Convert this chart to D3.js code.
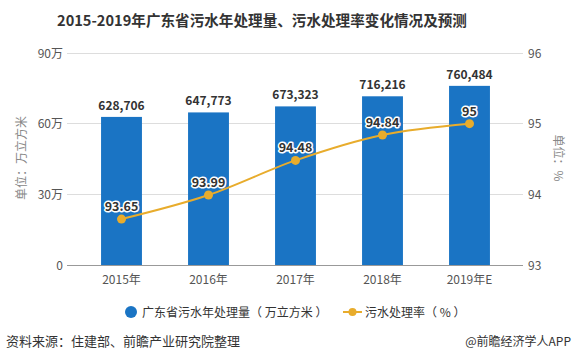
<!DOCTYPE html>
<html><head><meta charset="utf-8">
<script src="https://cdn.jsdelivr.net/npm/d3@7/dist/d3.min.js"></script>
<style>
body{margin:0;background:#fff;}
svg{display:block;font-family:"Noto Sans CJK SC","Noto Sans",sans-serif;}
</style></head>
<body><svg id="c" width="573" height="364"></svg>
<script>
const categories = ["2015年","2016年","2017年","2018年","2019年E"];
const volume = [628706, 647773, 673323, 716216, 760484];
const rate = [93.65, 93.99, 94.48, 94.84, 95];
const rateLabels = ["93.65","93.99","94.48","94.84","95"];
const leftTicks = [0, 300000, 600000, 900000];
const leftTickLabels = ["0","30万","60万","90万"];
const rightTicks = [93, 94, 95, 96];

(function(){
const svg = d3.select("#c");
const barColor = "#1a74c4", lineColor = "#e8ac2c";
const plotTop = 53, plotBottom = 265, gl = 67, gr = 523;

const x = d3.scaleBand().domain(categories).range([78, 513]).paddingInner(0.53).paddingOuter(0.265);
const yL = d3.scaleLinear().domain([0, 900000]).range([plotBottom, plotTop]);
const yR = d3.scaleLinear().domain([93, 96]).range([plotBottom, plotTop]);

// title
svg.append("text").attr("x", 262).attr("y", 26).attr("text-anchor","middle")
  .attr("font-size", 14.6).attr("font-weight","bold").attr("fill","#333")
  .text("2015-2019年广东省污水年处理量、污水处理率变化情况及预测");

// grid
svg.append("g").selectAll("line").data(leftTicks).join("line")
  .attr("x1", gl).attr("x2", gr).attr("y1", d=>yL(d)).attr("y2", d=>yL(d))
  .attr("stroke", d=>d===0?"#999":"#ddd").attr("stroke-width",1).attr("shape-rendering","crispEdges");

// left axis labels
svg.append("g").selectAll("text").data(leftTicks).join("text")
  .attr("x", 63).attr("y", d=>yL(d)+4.5).attr("text-anchor","end")
  .attr("font-size", 12).attr("fill","#555").text((d,i)=>leftTickLabels[i]);
// right axis labels
svg.append("g").selectAll("text").data(rightTicks).join("text")
  .attr("x", 528).attr("y", d=>yR(d)+4.5).attr("text-anchor","start")
  .attr("font-size", 12).attr("fill","#555").text(d=>d);

// axis titles
svg.append("text").attr("transform","translate(26,158) rotate(-90)").attr("text-anchor","middle")
  .attr("font-size", 12).attr("fill","#888").text("单位：万立方米");
svg.append("text").attr("transform","translate(554,158) rotate(90)").attr("text-anchor","middle")
  .attr("font-size", 12).attr("fill","#888").text("单位：%");

// bars
svg.append("g").selectAll("rect").data(volume).join("rect")
  .attr("x",(d,i)=>x(categories[i])).attr("width", x.bandwidth())
  .attr("y", d=>yL(d)).attr("height", d=>plotBottom-yL(d)).attr("fill", barColor);

// bar labels
svg.append("g").selectAll("text").data(volume).join("text")
  .attr("x",(d,i)=>x(categories[i])+x.bandwidth()/2).attr("y", d=>yL(d)-7)
  .attr("text-anchor","middle").attr("font-size",12).attr("font-weight","bold").attr("fill","#333")
  .text(d=>d3.format(",")(d));

// x labels
svg.append("g").selectAll("text").data(categories).join("text")
  .attr("x", d=>x(d)+x.bandwidth()/2).attr("y", 284).attr("text-anchor","middle")
  .attr("font-size",12).attr("fill","#555").text(d=>d);

// line
const line = d3.line().x((d,i)=>x(categories[i])+x.bandwidth()/2).y(d=>yR(d)).curve(d3.curveMonotoneX);
svg.append("path").datum(rate).attr("d", line).attr("fill","none").attr("stroke", lineColor).attr("stroke-width",2);
svg.append("g").selectAll("circle").data(rate).join("circle")
  .attr("cx",(d,i)=>x(categories[i])+x.bandwidth()/2).attr("cy", d=>yR(d)).attr("r",4.5).attr("fill", lineColor);
svg.append("g").selectAll("text").data(rate).join("text")
  .attr("x",(d,i)=>x(categories[i])+x.bandwidth()/2).attr("y", d=>yR(d)-8)
  .attr("text-anchor","middle").attr("font-size",12.5).attr("font-weight","bold").attr("fill","#333")
  .attr("stroke","#fff").attr("stroke-width",3).attr("paint-order","stroke").attr("stroke-linejoin","round")
  .text((d,i)=>rateLabels[i]);

// legend
svg.append("circle").attr("cx",131).attr("cy",312).attr("r",6).attr("fill",barColor);
svg.append("text").attr("x",142).attr("y",316.5).attr("font-size",12).attr("fill","#333").text("广东省污水年处理量（ 万立方米 ）");
svg.append("line").attr("x1",343).attr("x2",362).attr("y1",312).attr("y2",312).attr("stroke",lineColor).attr("stroke-width",2);
svg.append("circle").attr("cx",352.5).attr("cy",312).attr("r",4).attr("fill",lineColor);
svg.append("text").attr("x",365).attr("y",316.5).attr("font-size",12).attr("fill","#333").text("污水处理率（ % ）");

// footer
svg.append("text").attr("x",6).attr("y",346).attr("font-size",13).attr("fill","#333").text("资料来源：住建部、前瞻产业研究院整理");
svg.append("text").attr("x",571).attr("y",346).attr("text-anchor","end").attr("font-size",12).attr("fill","#333").text("@前瞻经济学人APP");
})();
</script></body></html>
